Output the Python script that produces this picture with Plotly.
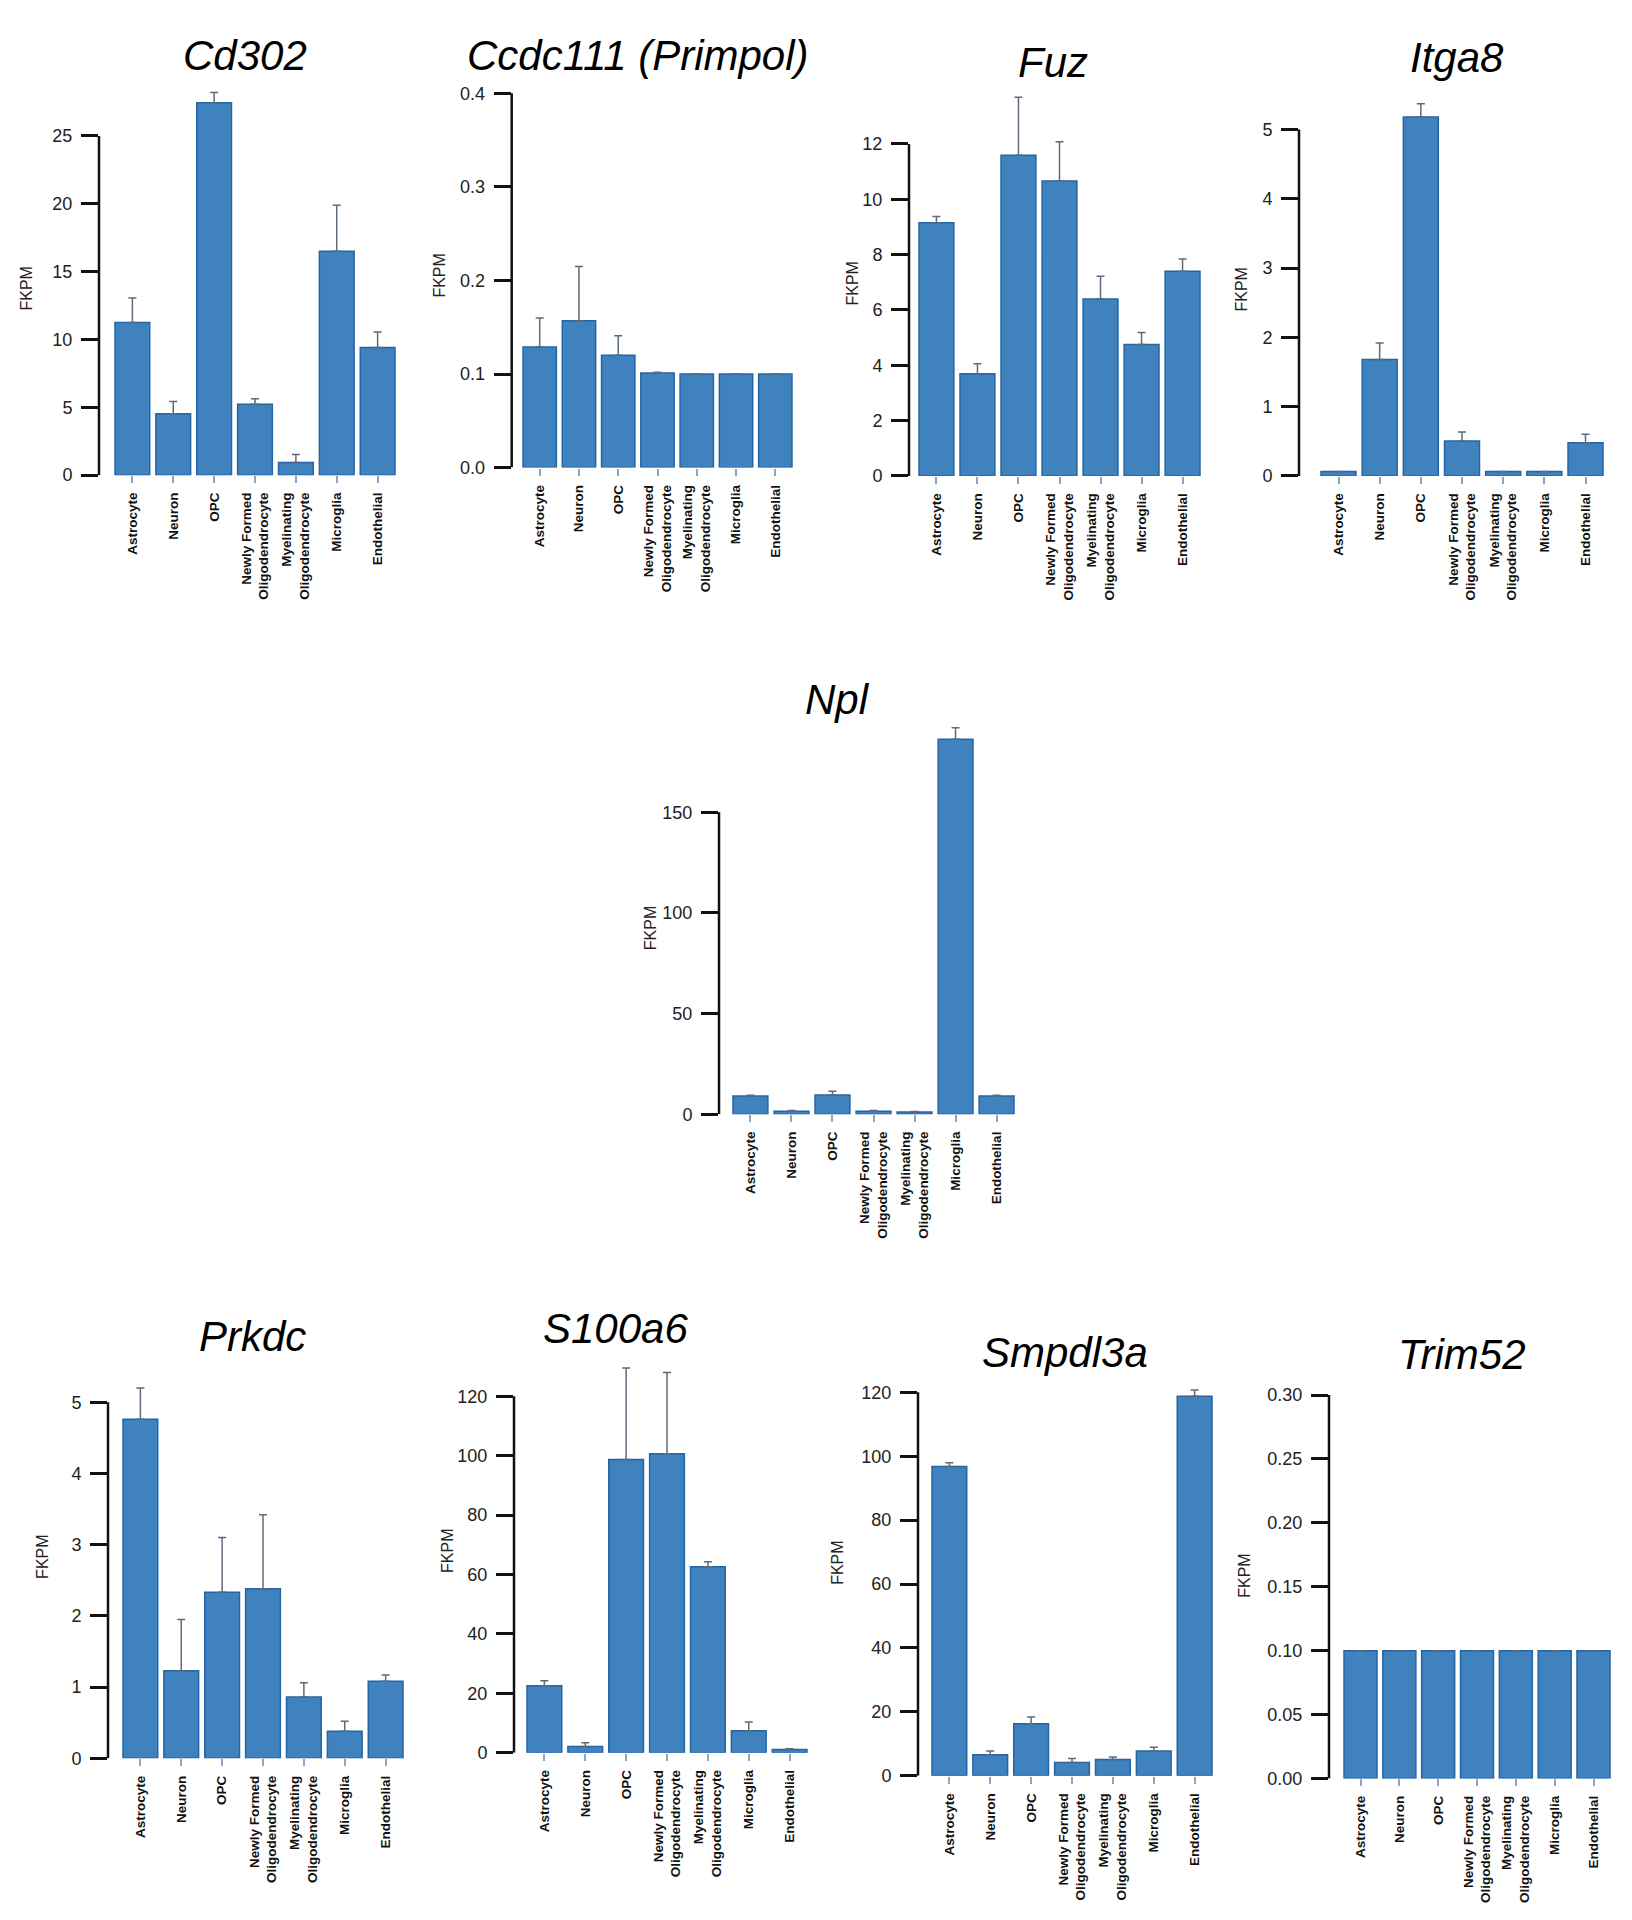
import plotly.graph_objects as go

# ---------------- data ----------------
CATEGORIES = ["Astrocyte", "Neuron", "OPC", "Newly Formed<br>Oligodendrocyte",
              "Myelinating<br>Oligodendrocyte", "Microglia", "Endothelial"]

GENES = ["Cd302", "Ccdc111 (Primpol)", "Fuz", "Itga8", "Npl",
         "Prkdc", "S100a6", "Smpdl3a", "Trim52"]

cd302_vals = [11.25, 4.52, 27.44, 5.22, 0.93, 16.5, 9.4]
cd302_err = [1.8, 0.9, 0.76, 0.42, 0.6, 3.4, 1.15]

ccdc111_vals = [0.129, 0.157, 0.120, 0.101, 0.100, 0.100, 0.100]
ccdc111_err = [0.031, 0.058, 0.021, 0.001, 0.0, 0.0, 0.0]

fuz_vals = [9.15, 3.69, 11.59, 10.66, 6.4, 4.75, 7.4]
fuz_err = [0.23, 0.37, 2.1, 1.42, 0.82, 0.44, 0.44]

itga8_vals = [0.066, 1.68, 5.18, 0.505, 0.066, 0.066, 0.48]
itga8_err = [0.0, 0.24, 0.19, 0.13, 0.0, 0.0, 0.12]

npl_vals = [9.1, 1.5, 9.5, 1.5, 1.1, 186.3, 9.1]
npl_err = [0.3, 0.3, 1.9, 0.3, 0.3, 5.7, 0.3]

prkdc_vals = [4.76, 1.23, 2.33, 2.38, 0.86, 0.38, 1.08]
prkdc_err = [0.44, 0.72, 0.77, 1.04, 0.2, 0.14, 0.09]

s100a6_vals = [22.5, 2.1, 98.7, 100.7, 62.6, 7.4, 1.06]
s100a6_err = [1.7, 1.2, 30.8, 27.3, 1.7, 2.9, 0.3]

smpdl3a_vals = [96.8, 6.55, 16.3, 4.17, 5.1, 7.75, 118.8]
smpdl3a_err = [1.2, 1.2, 2.1, 1.2, 0.8, 1.2, 1.9]

trim52_vals = [0.1, 0.1, 0.1, 0.1, 0.1, 0.1, 0.1]
trim52_err = [0.0, 0.0, 0.0, 0.0, 0.0, 0.0, 0.0]

VALUES = [cd302_vals, ccdc111_vals, fuz_vals, itga8_vals, npl_vals,
          prkdc_vals, s100a6_vals, smpdl3a_vals, trim52_vals]
ERRORS = [cd302_err, ccdc111_err, fuz_err, itga8_err, npl_err,
          prkdc_err, s100a6_err, smpdl3a_err, trim52_err]

Y_TICKS = [
    [0, 5, 10, 15, 20, 25],
    [0, 0.1, 0.2, 0.3, 0.4],
    [0, 2, 4, 6, 8, 10, 12],
    [0, 1, 2, 3, 4, 5],
    [0, 50, 100, 150],
    [0, 1, 2, 3, 4, 5],
    [0, 20, 40, 60, 80, 100, 120],
    [0, 20, 40, 60, 80, 100, 120],
    [0, 0.05, 0.10, 0.15, 0.20, 0.25, 0.30],
]
TICK_FORMATS = ["d", ".1f", "d", "d", "d", "d", "d", "d", ".2f"]

# ---------------- layout geometry (pixels on the 1632x1920 page) ----------------
W, H = 1632, 1920
OFF = 8  # page body margin: figure origin sits at (8, 8) on the page
# axis_x, bar_left, bar_right, y_zero_px, y_toptick_px, title center, ylabel center
PANELS = [
    dict(ax=99, bl=115, br=395, y0=477.6, yt=136.6, tx=245, ty=55.5, lx=27, ly=290),
    dict(ax=511.7, bl=523, br=792, y0=470, yt=93.8, tx=638, ty=55.5, lx=440, ly=277),
    dict(ax=909, bl=919, br=1200, y0=478.4, yt=144.7, tx=1053, ty=63, lx=853, ly=285),
    dict(ax=1299, bl=1321, br=1603, y0=478.4, yt=130.1, tx=1457, ty=57.4, lx=1242, ly=291),
    dict(ax=719, bl=733, br=1014, y0=1120, yt=816.5, tx=837, ty=703.6, lx=650, ly=933),
    dict(ax=108, bl=123, br=403, y0=1767.4, yt=1409.5, tx=252, ty=1343.5, lx=43, ly=1565),
    dict(ax=514, bl=527, br=807, y0=1761.8, yt=1403.6, tx=615, ty=1335.6, lx=448, ly=1559),
    dict(ax=918, bl=932, br=1212, y0=1785, yt=1399.6, tx=1065, ty=1360, lx=838, ly=1571),
    dict(ax=1329, bl=1344, br=1610, y0=1787.7, yt=1402.3, tx=1462, ty=1362, lx=1245, ly=1584),
]

BARGAP = 0.15
BAR_FILL = "#3f82bd"
BAR_LINE = "#2465a6"
ERR_COLOR = "#5c6b7c"
FONT = "Liberation Sans, Arial, sans-serif"


def fx(px):
    return (px - OFF) / W


def fy(px):
    return 1 - (px - OFF) / H


fig = go.Figure()
annotations = []
shapes = []
layout_axes = {}

for i, (gene, vals, errs, ticks, tfmt, p) in enumerate(
        zip(GENES, VALUES, ERRORS, Y_TICKS, TICK_FORMATS, PANELS)):
    n = i + 1
    xa = "x" if n == 1 else f"x{n}"
    ya = "y" if n == 1 else f"y{n}"
    xkey = "xaxis" if n == 1 else f"xaxis{n}"
    ykey = "yaxis" if n == 1 else f"yaxis{n}"

    fig.add_trace(go.Bar(
        x=CATEGORIES, y=vals, xaxis=xa, yaxis=ya,
        marker=dict(color=BAR_FILL, line=dict(color=BAR_LINE, width=1.5)),
        error_y=dict(type="data", array=errs, arrayminus=[0] * len(errs),
                     symmetric=False, color=ERR_COLOR, thickness=1.5, width=4),
        showlegend=False, hoverinfo="x+y",
    ))

    # x geometry
    ncat = len(CATEGORIES)
    s = (p["br"] - p["bl"]) / (ncat - BARGAP)
    c0 = p["bl"] + s * (1 - BARGAP) / 2
    cl = c0 + (ncat - 1) * s
    dx1 = p["br"] + 4
    r0 = (p["ax"] - c0) / s
    r1 = (ncat - 1) + (dx1 - cl) / s

    # y geometry
    top_val = ticks[-1]
    ppu = (p["y0"] - p["yt"]) / top_val
    top_px = p["ty"] + 20
    ymax = (p["y0"] - top_px) / ppu

    layout_axes[xkey] = dict(
        domain=[fx(p["ax"]), fx(dx1)], range=[r0, r1], type="category",
        anchor=ya, showline=False, showgrid=False, zeroline=False,
        ticks="outside", ticklen=7, tickwidth=1.5, tickcolor="#86a7cc",
        tickangle=-90, ticklabelstandoff=4,
        tickfont=dict(family=FONT, size=13.5, color="#111", weight="bold"),
        fixedrange=True,
    )
    layout_axes[ykey] = dict(
        domain=[fy(p["y0"]), fy(top_px)], range=[0, ymax],
        anchor=xa, showline=False, showgrid=False, zeroline=False,
        ticks="outside", ticklen=17, tickwidth=2.5, tickcolor="#111",
        tickvals=ticks, tickformat=tfmt, ticklabelstandoff=5,
        tickfont=dict(family=FONT, size=18, color="#222"),
        fixedrange=True,
    )

    # y axis line only up to the top tick
    shapes.append(dict(type="line", xref=f"{xa} domain", yref=ya,
                       x0=0, x1=0, y0=0, y1=top_val,
                       line=dict(color="#111", width=2.5)))

    annotations.append(dict(
        text=f"<i>{gene}</i>", xref="paper", yref="paper",
        x=fx(p["tx"]), y=fy(p["ty"]), xanchor="center", yanchor="middle",
        showarrow=False, font=dict(family=FONT, size=42, color="#000")))
    annotations.append(dict(
        text="FKPM", xref="paper", yref="paper",
        x=fx(p["lx"]), y=fy(p["ly"]), xanchor="center", yanchor="middle",
        textangle=-90, showarrow=False,
        font=dict(family=FONT, size=16, color="#222")))

fig.update_layout(
    width=W, height=H, margin=dict(l=0, r=0, t=0, b=0),
    paper_bgcolor="white", plot_bgcolor="white",
    bargap=BARGAP, annotations=annotations, shapes=shapes,
    **layout_axes,
)

fig.write_html("out.html")
